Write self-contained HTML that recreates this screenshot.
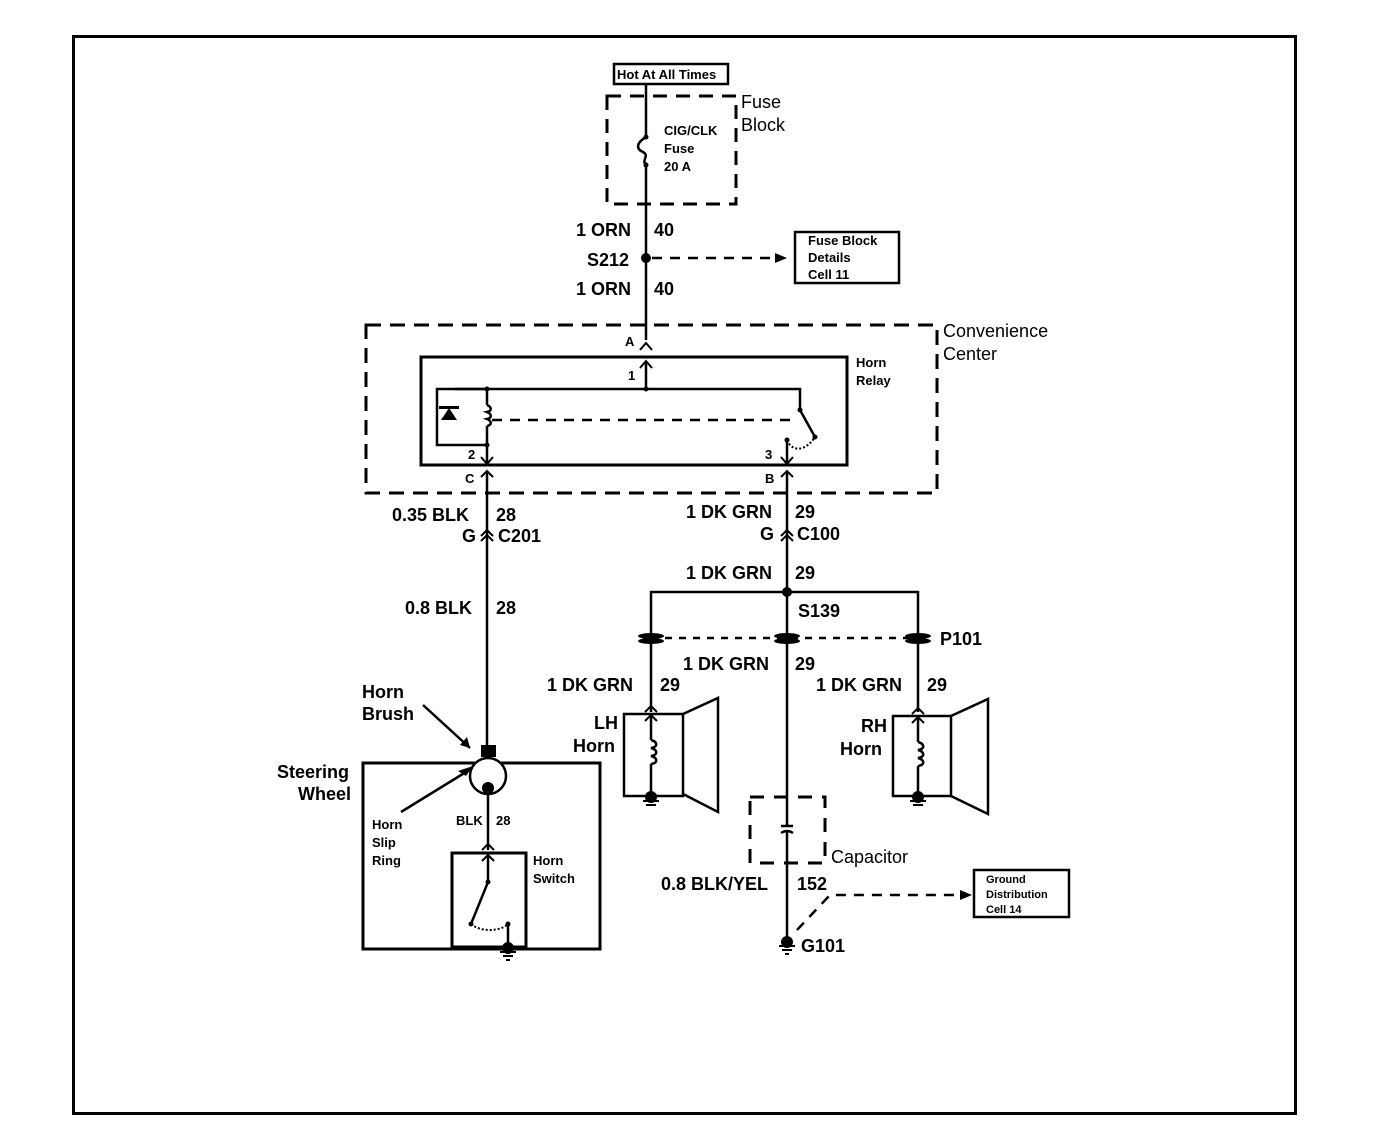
<!DOCTYPE html>
<html><head><style>
html,body{margin:0;padding:0;background:#fff;}
svg{display:block;}
text{font-family:"Liberation Sans",Arial,sans-serif;fill:#000;font-weight:bold;}
.b{font-size:18px;font-weight:normal;}
.s{font-size:13px;}
.m{font-size:18px;}
</style></head><body>
<svg width="1392" height="1128" viewBox="0 0 1392 1128" xmlns="http://www.w3.org/2000/svg">
<g stroke="#000" fill="none" stroke-width="2.5">
<!-- frame -->
<rect x="73.5" y="36.5" width="1222" height="1077" stroke-width="3"/>
<!-- hot box -->
<rect x="614" y="64" width="114" height="20" stroke-width="2.5"/>
<!-- fuse block dashed -->
<rect x="607" y="96" width="129" height="108" stroke-dasharray="14,9" stroke-width="3"/>
<!-- main wire -->
<line x1="646" y1="84" x2="646" y2="137"/>
<path d="M646 137 C636 143,636 149,643 152 C650 156,641 160,646 165"/>
<line x1="646" y1="165" x2="646" y2="340"/>
<!-- S212 dashed -->
<line x1="652" y1="258" x2="775" y2="258" stroke-dasharray="10,8"/>
<rect x="795" y="232" width="104" height="51"/>
<!-- convenience center -->
<rect x="366" y="325" width="571" height="168" stroke-dasharray="15,9" stroke-width="3"/>
<!-- relay box -->
<rect x="421" y="357" width="426" height="108" stroke-width="3"/>
<line x1="646" y1="362" x2="646" y2="389"/>
<path d="M455 389 H800 V410"/>
<rect x="437" y="389" width="50" height="56" stroke="none"/>
<path d="M487 389 H437 V445 H487"/>
<line x1="487" y1="389" x2="487" y2="405"/>
<path d="M487 405 c5 2,5 6,0 7 c5 2,5 6,0 7 c5 2,5 6,0 7"/>
<line x1="487" y1="426" x2="487" y2="465"/>
<line x1="492" y1="420" x2="790" y2="420" stroke-dasharray="10,8"/>
<path d="M800 410 L815 437"/>
<path d="M787 440 C792 452,805 452,815 437" stroke-dasharray="2,2" stroke-width="2"/>
<line x1="787" y1="440" x2="787" y2="465"/>
<!-- left wire -->
<line x1="487" y1="472" x2="487" y2="748"/>
<!-- right wire -->
<line x1="787" y1="472" x2="787" y2="826"/>
<line x1="787" y1="832" x2="787" y2="940"/>
<!-- branches -->
<path d="M651 712 V592 H918 V712"/>
<line x1="651" y1="638" x2="918" y2="638" stroke-dasharray="7,7"/>
<!-- LH horn -->
<rect x="624" y="714" width="59" height="82"/>
<path d="M683 714 L718 698 V812 L683 794"/>
<line x1="651" y1="714" x2="651" y2="740"/>
<path d="M651 740 c7 2,7 7,0 8 c7 2,7 7,0 8 c7 2,7 7,0 8"/>
<line x1="651" y1="764" x2="651" y2="796"/>
<!-- RH horn -->
<rect x="893" y="716" width="58" height="80"/>
<path d="M951 716 L988 699 V814 L951 796"/>
<line x1="918" y1="716" x2="918" y2="742"/>
<path d="M918 742 c7 2,7 7,0 8 c7 2,7 7,0 8 c7 2,7 7,0 8"/>
<line x1="918" y1="766" x2="918" y2="796"/>
<!-- capacitor -->
<rect x="750" y="797" width="75" height="66" stroke-dasharray="14,10" stroke-width="3"/>
<line x1="781" y1="826" x2="793" y2="826"/>
<path d="M781 833 Q787 829 793 833"/>
<!-- ground dist -->
<path d="M797 930 L830 895 H955" stroke-dasharray="10,8"/>
<rect x="974" y="870" width="95" height="47"/>
<!-- steering wheel -->
<rect x="363" y="763" width="237" height="186" stroke-width="3"/>
<circle cx="488" cy="776" r="18" fill="#fff"/>
<line x1="488" y1="790" x2="488" y2="850"/>
<rect x="452" y="853" width="74" height="94" stroke-width="3"/>
<line x1="488" y1="855" x2="488" y2="882"/>
<path d="M488 882 L471 924"/>
<path d="M471 924 C480 932,500 932,508 924" stroke-dasharray="2,2" stroke-width="2"/>
<line x1="508" y1="924" x2="508" y2="945"/>
<!-- arrows -->
<path d="M423 705 L470 748" stroke-width="2.5"/>
<path d="M401 812 L466 772" stroke-width="2.5"/>
</g>
<g fill="#000">
<circle cx="646" cy="258" r="5"/>
<polygon points="775,253 787,258 775,263"/>
<polygon points="960,890 972,895 960,900"/>
<circle cx="646" cy="389" r="2.5"/>
<circle cx="487" cy="389" r="2.5"/><circle cx="487" cy="445" r="2.5"/>
<polygon points="441,420 457,420 449,408"/><rect x="439" y="406" width="20" height="3"/>
<circle cx="800" cy="410" r="2.5"/><circle cx="815" cy="437" r="2.5"/><circle cx="787" cy="440" r="2.5"/>
<circle cx="787" cy="592" r="5"/>
<rect x="481" y="745" width="15" height="12"/>
<circle cx="488" cy="788" r="6"/>
<polygon points="466,776 473,766 458,771"/>
<polygon points="470,748 460,745 467,737"/>
<circle cx="488" cy="882" r="2.5"/><circle cx="471" cy="924" r="2.5"/><circle cx="508" cy="924" r="2.5"/>
<!-- P101 ovals -->
<ellipse cx="651" cy="636" rx="13" ry="3"/><ellipse cx="651" cy="641" rx="13" ry="3"/>
<ellipse cx="787" cy="636" rx="13" ry="3"/><ellipse cx="787" cy="641" rx="13" ry="3"/>
<ellipse cx="918" cy="636" rx="13" ry="3"/><ellipse cx="918" cy="641" rx="13" ry="3"/>
<circle cx="646" cy="137" r="2.5"/><circle cx="646" cy="165" r="2.5"/>
</g>
<!-- connector chevrons and grounds -->
<g stroke="#000" fill="none" stroke-width="2">
<path d="M640 350 L646 343 L652 350"/>
<path d="M640 368 L646 361 L652 368"/>
<path d="M481 457 L487 464 L493 457"/>
<path d="M481 477 L487 471 L493 477" />
<path d="M781 457 L787 464 L793 457"/>
<path d="M781 477 L787 471 L793 477"/>
<path d="M481 536 L487 530 L493 536"/><path d="M481 541 L487 535 L493 541"/>
<path d="M781 536 L787 530 L793 536"/><path d="M781 541 L787 535 L793 541"/>
<path d="M645 712 L651 706 L657 712"/><path d="M645 721 L651 715 L657 721"/>
<path d="M912 714 L918 708 L924 714"/><path d="M912 723 L918 717 L924 723"/>
<path d="M482 850 L488 844 L494 850"/><path d="M482 861 L488 855 L494 861"/>
</g>
<g fill="#000" stroke="#000" stroke-width="2">
<circle cx="651" cy="797" r="5"/><line x1="643" y1="801" x2="659" y2="801"/><line x1="646" y1="805" x2="656" y2="805"/>
<circle cx="918" cy="797" r="5"/><line x1="910" y1="801" x2="926" y2="801"/><line x1="913" y1="805" x2="923" y2="805"/>
<circle cx="508" cy="948" r="5"/><line x1="500" y1="952" x2="516" y2="952"/><line x1="503" y1="956" x2="513" y2="956"/><line x1="506" y1="960" x2="510" y2="960"/>
<circle cx="787" cy="942" r="5"/><line x1="779" y1="946" x2="795" y2="946"/><line x1="782" y1="950" x2="792" y2="950"/><line x1="785" y1="954" x2="789" y2="954"/>
</g>
<!-- texts -->
<text x="617" y="79" class="s">Hot At All Times</text>
<text x="741" y="108" class="b">Fuse</text>
<text x="741" y="131" class="b">Block</text>
<text x="664" y="135" class="s">CIG/CLK</text>
<text x="664" y="153" class="s">Fuse</text>
<text x="664" y="171" class="s">20 A</text>
<text x="576" y="236" class="m">1 ORN</text><text x="654" y="236" class="m">40</text>
<text x="587" y="266" class="m">S212</text>
<text x="576" y="295" class="m">1 ORN</text><text x="654" y="295" class="m">40</text>
<text x="808" y="245" class="s">Fuse Block</text>
<text x="808" y="262" class="s">Details</text>
<text x="808" y="279" class="s">Cell 11</text>
<text x="943" y="337" class="b">Convenience</text>
<text x="943" y="360" class="b">Center</text>
<text x="625" y="346" class="s">A</text>
<text x="856" y="367" class="s">Horn</text><text x="856" y="385" class="s">Relay</text>
<text x="628" y="380" class="s">1</text>
<text x="468" y="459" class="s">2</text><text x="765" y="459" class="s">3</text>
<text x="465" y="483" class="s">C</text><text x="765" y="483" class="s">B</text>
<text x="392" y="521" class="m">0.35 BLK</text><text x="496" y="521" class="m">28</text>
<text x="462" y="542" class="m">G</text><text x="498" y="542" class="m">C201</text>
<text x="686" y="518" class="m">1 DK GRN</text><text x="795" y="518" class="m">29</text>
<text x="760" y="540" class="m">G</text><text x="797" y="540" class="m">C100</text>
<text x="686" y="579" class="m">1 DK GRN</text><text x="795" y="579" class="m">29</text>
<text x="798" y="617" class="m">S139</text>
<text x="940" y="645" class="m">P101</text>
<text x="405" y="614" class="m">0.8 BLK</text><text x="496" y="614" class="m">28</text>
<text x="683" y="670" class="m">1 DK GRN</text><text x="795" y="670" class="m">29</text>
<text x="547" y="691" class="m">1 DK GRN</text><text x="660" y="691" class="m">29</text>
<text x="816" y="691" class="m">1 DK GRN</text><text x="927" y="691" class="m">29</text>
<text x="594" y="729" class="m">LH</text><text x="573" y="752" class="m">Horn</text>
<text x="861" y="732" class="m">RH</text><text x="840" y="755" class="m">Horn</text>
<text x="362" y="698" class="m">Horn</text><text x="362" y="720" class="m">Brush</text>
<text x="277" y="778" class="m">Steering</text><text x="298" y="800" class="m">Wheel</text>
<text x="372" y="829" class="s">Horn</text><text x="372" y="847" class="s">Slip</text><text x="372" y="865" class="s">Ring</text>
<text x="456" y="825" class="s">BLK</text><text x="496" y="825" class="s">28</text>
<text x="533" y="865" class="s">Horn</text><text x="533" y="883" class="s">Switch</text>
<text x="831" y="863" class="b">Capacitor</text>
<text x="661" y="890" class="m">0.8 BLK/YEL</text><text x="797" y="890" class="m">152</text>
<text x="801" y="952" class="m">G101</text>
<text x="986" y="883" class="s" style="font-size:11px">Ground</text>
<text x="986" y="898" class="s" style="font-size:11px">Distribution</text>
<text x="986" y="913" class="s" style="font-size:11px">Cell 14</text>
</svg>
</body></html>
